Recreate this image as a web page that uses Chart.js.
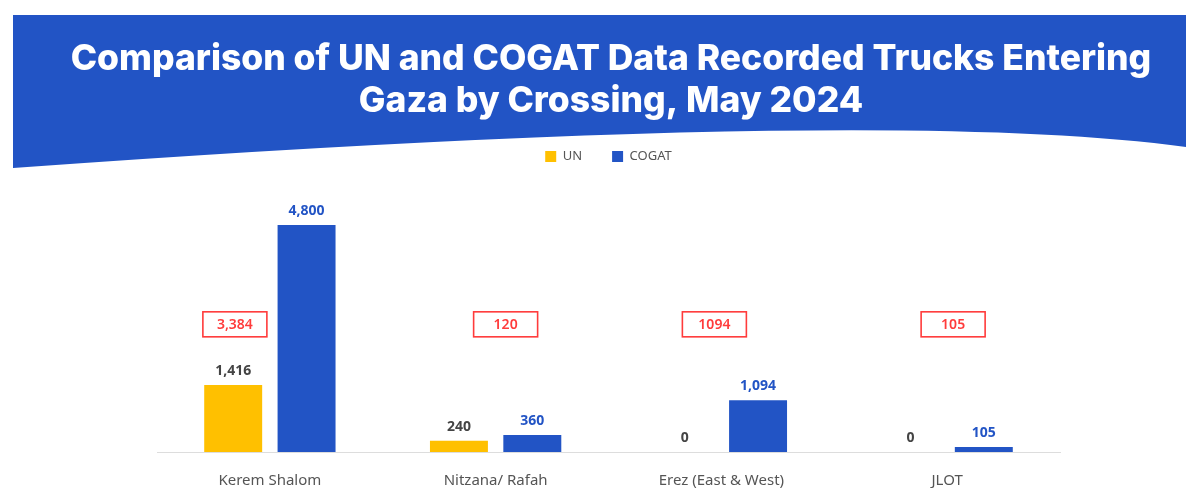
<!DOCTYPE html>
<html>
<head>
<meta charset="utf-8">
<script src="https://cdn.jsdelivr.net/npm/chart.js@4"></script>
<style>
  html, body { margin: 0; padding: 0; background: #fff; overflow: hidden; }
  #wrap { position: relative; width: 1192px; height: 500px; }
</style>
</head>
<body>
<div id="wrap"><canvas id="truckChart"></canvas></div>
<script>
// дані з графіка
const categories = ["Kerem Shalom", "Nitzana/ Rafah", "Erez (East & West)", "JLOT"];
const unTrucks = [1416, 240, 0, 0];
const cogatTrucks = [4800, 360, 1094, 105];
const gapLabels = ["3,384", "120", "1094", "105"];
const titleLines = ["Comparison of UN and COGAT Data Recorded Trucks Entering", "Gaza by Crossing, May 2024"];

const BLUE = "#2254c5";
const YELLOW = "#ffc000";
const RED = "#ff3b3b";

// синя шапка з вигнутим низом і заголовком
const bannerPlugin = {
    id: "banner",
    beforeDraw(chart) {
        const ctx = chart.ctx;
        ctx.save();
        ctx.fillStyle = BLUE;
        ctx.beginPath();
        ctx.moveTo(13, 15);
        ctx.lineTo(1186, 15);
        ctx.lineTo(1186, 147);
        ctx.quadraticCurveTo(880, 105, 13, 168);
        ctx.closePath();
        ctx.fill();

        ctx.fillStyle = "#fff";
        ctx.font = "800 35.5px Inter, 'Open Sans', sans-serif";
        ctx.textAlign = "center";
        ctx.textBaseline = "middle";
        ctx.fillText(titleLines[0], 611, 59);
        ctx.fillText(titleLines[1], 611, 101);
        ctx.restore();
    }
};

// підписи значень над стовпцями і червоні рамки різниці
const labelsPlugin = {
    id: "valueLabels",
    afterDatasetsDraw(chart) {
        const ctx = chart.ctx;
        const x = chart.scales.x;
        const y = chart.scales.y;
        ctx.save();
        ctx.textAlign = "center";
        ctx.textBaseline = "bottom";
        ctx.font = "bold 14px 'Noto Sans', sans-serif";
        chart.data.datasets.forEach((ds, i) => {
            const meta = chart.getDatasetMeta(i);
            ctx.fillStyle = i === 0 ? "#444" : BLUE;
            meta.data.forEach((bar, j) => {
                ctx.fillText(ds.data[j].toLocaleString("en-US"), bar.x, bar.y - 7);
            });
        });

        const shifts = [-35, 10, -7, 6];
        ctx.font = "600 14px 'Noto Sans', sans-serif";
        ctx.textBaseline = "middle";
        ctx.strokeStyle = RED;
        ctx.fillStyle = RED;
        ctx.lineWidth = 1.6;
        gapLabels.forEach((txt, j) => {
            const cx = x.getPixelForValue(j) + shifts[j];
            const cy = y.getPixelForValue(2700);
            ctx.strokeRect(cx - 32, cy - 12.5, 64, 25);
            ctx.fillText(txt, cx, cy + 1);
        });
        ctx.restore();
    }
};

new Chart(document.getElementById("truckChart"), {
    type: "bar",
    data: {
        labels: categories,
        datasets: [
            { label: "UN", data: unTrucks, backgroundColor: YELLOW },
            { label: "COGAT", data: cogatTrucks, backgroundColor: BLUE }
        ]
    },
    options: {
        responsive: true,
        maintainAspectRatio: false,
        animation: false,
        datasets: { bar: { categoryPercentage: 0.65, barPercentage: 0.79 } },
        layout: { padding: { top: 120, bottom: -10, left: 157, right: 132 } },
        plugins: {
            legend: {
                position: "top",
                labels: {
                    boxWidth: 11,
                    boxHeight: 11,
                    padding: 30,
                    color: "#555",
                    font: { size: 13, family: "'Noto Sans', sans-serif" }
                }
            },
            tooltip: { enabled: false }
        },
        scales: {
            x: {
                grid: { display: false, drawTicks: false },
                border: { display: true, color: "#dddddd" },
                ticks: {
                    padding: 20,
                    color: "#555",
                    font: { size: 15, family: "'Noto Sans', sans-serif" }
                }
            },
            y: {
                display: false,
                min: 0,
                max: 5900
            }
        }
    },
    plugins: [bannerPlugin, labelsPlugin]
});
</script>
</body>
</html>
